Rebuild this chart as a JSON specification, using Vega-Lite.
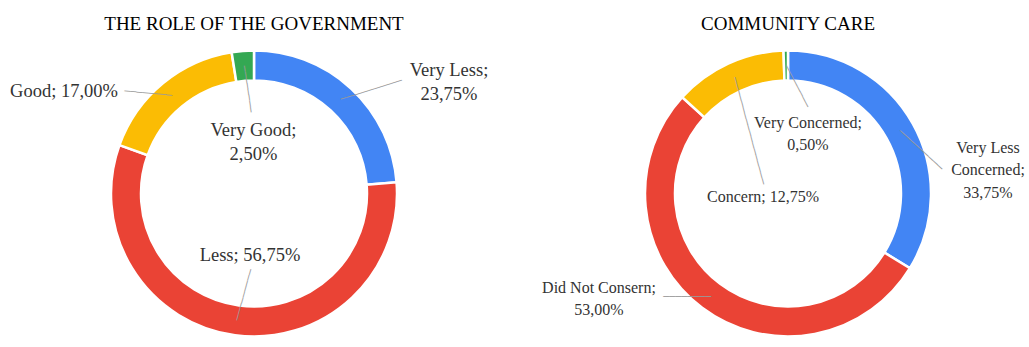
{
  "$schema": "https://vega.github.io/schema/vega-lite/v6.json",
  "padding": {"left": 10, "top": 14.5, "right": 0, "bottom": 0},
  "background": "white",
  "bounds": "flush",
  "config": {
    "view": {"stroke": null},
    "concat": {"spacing": 64},
    "title": {"font": "Liberation Serif", "fontSize": 19, "fontWeight": "normal", "color": "#000000", "anchor": "middle", "offset": 4.5, "frame": "group"},
    "text": {"font": "Liberation Serif", "fontSize": 18.5, "color": "#333333", "align": "center", "baseline": "middle", "lineHeight": 24, "lineBreak": "\n"}
  },
  "datasets": {
    "gov": [
      {"category": "Very Less", "value": 23.75, "ord": 1, "label": "Very Less;\n23,75%"},
      {"category": "Less", "value": 56.75, "ord": 2, "label": "Less; 56,75%"},
      {"category": "Good", "value": 17.00, "ord": 3, "label": "Good; 17,00%"},
      {"category": "Very Good", "value": 2.50, "ord": 4, "label": "Very Good;\n2,50%"}
    ],
    "care": [
      {"category": "Very Less Concerned", "value": 33.75, "ord": 1, "label": "Very Less\nConcerned;\n33,75%"},
      {"category": "Did Not Consern", "value": 53.00, "ord": 2, "label": "Did Not Consern;\n53,00%"},
      {"category": "Concern", "value": 12.75, "ord": 3, "label": "Concern; 12,75%"},
      {"category": "Very Concerned", "value": 0.50, "ord": 4, "label": "Very Concerned;\n0,50%"}
    ]
  },
  "resolve": {"scale": {"color": "independent"}},
  "hconcat": [
    {
      "title": "THE ROLE OF THE GOVERNMENT",
      "width": 470,
      "height": 310,
      "data": {"name": "gov"},
      "transform": [{"stack": "value", "groupby": [], "sort": [{"field": "ord", "order": "ascending"}], "as": ["v0", "v1"]}],
      "encoding": {
        "theta": {"field": "v0", "type": "quantitative", "scale": {"domain": [0, 100]}}
      },
      "layer": [
        {
          "mark": {"type": "arc", "innerRadius": 113, "outerRadius": 143, "stroke": "white", "strokeWidth": 2.5},
          "encoding": {
            "theta2": {"field": "v1"},
            "color": {"field": "category", "type": "nominal", "legend": null,
              "scale": {"domain": ["Very Less", "Less", "Good", "Very Good"], "range": ["#4285F4", "#EA4335", "#FBBC04", "#34A853"]}}}
        },
        {"transform": [{"filter": "datum.category === 'Very Less'"}],
         "mark": {"type": "text", "radius": 128, "angle": -17.3, "dx": 72.9, "dy": 58.3, "align": "left", "font": "DejaVu Sans", "fontSize": 9.66, "color": "#9a9a9a", "text": "───────────"}},
        {"transform": [{"filter": "datum.category === 'Less'"}],
         "mark": {"type": "text", "radius": 128, "angle": -74.6, "dx": -170.4, "dy": -103.0, "align": "left", "font": "DejaVu Sans", "fontSize": 9.78, "color": "#9a9a9a", "text": "─────────"}},
        {"transform": [{"filter": "datum.category === 'Good'"}],
         "mark": {"type": "text", "radius": 128, "angle": 185.3, "dx": -33.5, "dy": 58.6, "align": "left", "font": "DejaVu Sans", "fontSize": 9.97, "color": "#9a9a9a", "text": "────────"}},
        {"transform": [{"filter": "datum.category === 'Very Good'"}],
         "mark": {"type": "text", "radius": 128, "angle": 81.5, "dx": 0.3, "dy": -10.1, "align": "left", "font": "DejaVu Sans", "fontSize": 9.76, "color": "#9a9a9a", "text": "────────"}},
        {"transform": [{"filter": "datum.category === 'Very Less'"}],
         "mark": {"type": "text", "radius": 123.5, "dx": 195, "dy": 0},
         "encoding": {"text": {"field": "label", "type": "nominal"}}},
        {"transform": [{"filter": "datum.category === 'Less'"}],
         "mark": {"type": "text", "radius": 0, "dx": -4, "dy": 61},
         "encoding": {"text": {"field": "label", "type": "nominal"}}},
        {"transform": [{"filter": "datum.category === 'Good'"}],
         "mark": {"type": "text", "radius": 213.7, "dx": 11.1, "dy": -30.6},
         "encoding": {"text": {"field": "label", "type": "nominal"}}},
        {"transform": [{"filter": "datum.category === 'Very Good'"}],
         "mark": {"type": "text", "radius": 62.2, "dx": 9.2, "dy": -1.6},
         "encoding": {"text": {"field": "label", "type": "nominal"}}}
      ]
    },
    {
      "title": "COMMUNITY CARE",
      "width": 470,
      "height": 310,
      "data": {"name": "care"},
      "transform": [{"stack": "value", "groupby": [], "sort": [{"field": "ord", "order": "ascending"}], "as": ["v0", "v1"]}],
      "encoding": {
        "theta": {"field": "v0", "type": "quantitative", "scale": {"domain": [0, 100]}}
      },
      "layer": [
        {
          "mark": {"type": "arc", "innerRadius": 113, "outerRadius": 143, "stroke": "white", "strokeWidth": 2.5},
          "encoding": {
            "theta2": {"field": "v1"},
            "color": {"field": "category", "type": "nominal", "legend": null,
              "scale": {"domain": ["Very Less Concerned", "Did Not Consern", "Concern", "Very Concerned"], "range": ["#4285F4", "#EA4335", "#FBBC04", "#34A853"]}}}
        },
        {"transform": [{"filter": "datum.category === 'Very Less Concerned'"}],
         "mark": {"type": "text", "radius": 128, "angle": 42.5, "dx": 126.7, "dy": -27.2, "align": "left", "font": "DejaVu Sans", "fontSize": 10.5, "color": "#9a9a9a", "text": "─────────"}},
        {"transform": [{"filter": "datum.category === 'Did Not Consern'"}],
         "mark": {"type": "text", "radius": 128, "angle": 180, "dx": 186.0, "dy": -35.5, "align": "left", "font": "DejaVu Sans", "fontSize": 9.97, "color": "#9a9a9a", "text": "────────"}},
        {"transform": [{"filter": "datum.category === 'Concern'"}],
         "mark": {"type": "text", "radius": 128, "angle": 75, "dx": -18.5, "dy": -47.5, "align": "left", "font": "DejaVu Sans", "fontSize": 10.24, "color": "#9a9a9a", "text": "──────────────────"}},
        {"transform": [{"filter": "datum.category === 'Very Concerned'"}],
         "mark": {"type": "text", "radius": 128, "angle": 62.4, "dx": 0.8, "dy": -1.8, "align": "left", "font": "DejaVu Sans", "fontSize": 9.76, "color": "#9a9a9a", "text": "────────"}},
        {"transform": [{"filter": "datum.category === 'Very Less Concerned'"}],
         "mark": {"type": "text", "radius": 46, "dx": 200, "dy": 0, "fontSize": 16, "lineHeight": 22.5},
         "encoding": {"text": {"field": "label", "type": "nominal"}}},
        {"transform": [{"filter": "datum.category === 'Did Not Consern'"}],
         "mark": {"type": "text", "radius": 0, "dx": -189, "dy": 94, "fontSize": 16, "lineHeight": 22.5},
         "encoding": {"text": {"field": "label", "type": "nominal"}}},
        {"transform": [{"filter": "datum.category === 'Concern'"}],
         "mark": {"type": "text", "radius": 15.8, "dx": -13.3, "dy": 14.6, "fontSize": 16, "lineHeight": 22.5},
         "encoding": {"text": {"field": "label", "type": "nominal"}}},
        {"transform": [{"filter": "datum.category === 'Very Concerned'"}],
         "mark": {"type": "text", "radius": 70.3, "dx": 22.2, "dy": -0.7, "fontSize": 16, "lineHeight": 22.5},
         "encoding": {"text": {"field": "label", "type": "nominal"}}}
      ]
    }
  ]
}
